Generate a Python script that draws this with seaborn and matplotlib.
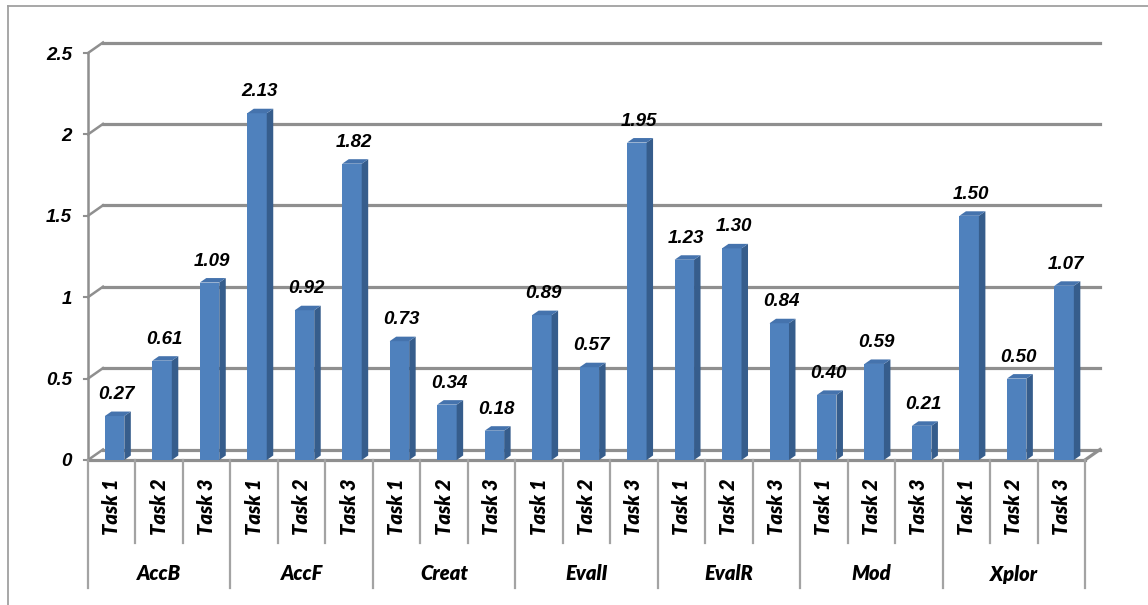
# Excel-style 3D column chart: task scores per group
import pandas as pd
import matplotlib.pyplot as plt
import seaborn as sns
from matplotlib.patches import Polygon
from matplotlib.lines import Line2D

groups = ["AccB", "AccF", "Creat", "EvalI", "EvalR", "Mod", "Xplor"]
tasks = ["Task 1", "Task 2", "Task 3"]
values = [0.27, 0.61, 1.09,
          2.13, 0.92, 1.82,
          0.73, 0.34, 0.18,
          0.89, 0.57, 1.95,
          1.23, 1.30, 0.84,
          0.40, 0.59, 0.21,
          1.50, 0.50, 1.07]
yticks = [0, 0.5, 1, 1.5, 2, 2.5]

rows = []
for gi, g in enumerate(groups):
    for ti, t in enumerate(tasks):
        rows.append({"key": g + " " + t, "group": g, "task": t, "value": values[gi * 3 + ti]})
df = pd.DataFrame(rows)
n = len(df)

W, H = 1148, 605
fig = plt.figure(figsize=(W / 100, H / 100), dpi=100)
ax = fig.add_axes([88 / W, (H - 460) / H, (1085 - 88) / W, (460 - 53) / H])

front = "#4F81BD"
side = "#365D8C"
top = "#4573AD"
grid_col = "#8F8F8F"
sep_col = "#A3A3A3"
num_font = dict(fontsize=13.5, fontweight="bold", fontstyle="italic", family="Liberation Sans")
cat_font = dict(fontsize=14.5, fontweight=800, fontstyle="italic", family="Lato")

sns.barplot(data=df, x="key", y="value", order=df["key"], color=front,
            saturation=1, width=0.41, errorbar=None, ax=ax, zorder=3)

ax.set_xlim(-0.5, n - 0.5)
ax.set_ylim(0, 2.5)
ax.axis("off")

# pixel -> data conversions
px_x = n / (1085 - 88)
px_y = 2.5 / (460 - 53)
depth_x, depth_y = 15 * px_x, 10.5 * px_y     # wall depth
bx, by = 6.5 * px_x, 4.5 * px_y               # bar depth

# back wall gridlines + left connectors + tick marks
for t in yticks:
    ax.add_line(Line2D([-0.5 + depth_x, n - 0.5 + depth_x], [t + depth_y, t + depth_y],
                       color=grid_col, lw=2.3, zorder=1, clip_on=False))
    ax.add_line(Line2D([-0.5, -0.5 + depth_x], [t, t + depth_y],
                       color=grid_col, lw=1.8, zorder=1, clip_on=False))
    ax.add_line(Line2D([-0.5 - 4 * px_x, -0.5], [t, t],
                       color=grid_col, lw=1.5, zorder=1, clip_on=False))
    lab = "0" if t == 0 else ("%g" % t)
    ax.text(-0.5 - 16 * px_x, t - 2 * px_y, lab, ha="right", va="center", **num_font)

# left axis and floor
ax.add_line(Line2D([-0.5, -0.5], [0, 2.5], color=grid_col, lw=1.8, zorder=1, clip_on=False))
ax.add_line(Line2D([-0.5, n - 0.5], [0, 0], color=grid_col, lw=2.3, zorder=2, clip_on=False))
ax.add_line(Line2D([n - 0.5, n - 0.5 + depth_x], [0, depth_y], color=grid_col, lw=2.3,
                   zorder=2, clip_on=False))

# 3D faces and value labels
for p, v in zip(ax.patches, df["value"]):
    p.set_x(p.get_x() + 0.06)
    p.set_edgecolor("none")
    x0, w, h = p.get_x(), p.get_width(), p.get_height()
    x1 = x0 + w
    ax.add_patch(Polygon([(x1, 0), (x1 + bx, by), (x1 + bx, h + by), (x1, h)],
                         closed=True, facecolor=side, edgecolor="none", zorder=3, clip_on=False))
    ax.add_patch(Polygon([(x0, h), (x1, h), (x1 + bx, h + by), (x0 + bx, h + by)],
                         closed=True, facecolor=top, edgecolor="none", zorder=3, clip_on=False))
    ax.annotate("%.2f" % v, (x0 + w / 2 + 2 * px_x, h), xytext=(0, 17),
                textcoords="offset pixels", ha="center", va="baseline",
                annotation_clip=False, **num_font)

# category axis below
task_bottom = -(543 - 460) * px_y
group_bottom = -(588 - 460) * px_y
for i in range(n + 1):
    xb = i - 0.5
    yb = group_bottom if i % 3 == 0 else task_bottom
    ax.add_line(Line2D([xb, xb], [0, yb], color=sep_col, lw=1.6, clip_on=False))
for i, t in enumerate(df["task"]):
    ax.text(i, -(507 - 460) * px_y, t, rotation=90, ha="center", va="center", **cat_font)
for gi, g in enumerate(groups):
    ax.text(gi * 3 + 1, -(574 - 460) * px_y, g, ha="center", va="center", **cat_font)

# outer chart frame
fig.add_artist(Line2D([7.5 / W, 7.5 / W], [0, 1 - 5.5 / H], color="#A0A0A0", lw=1.3))
fig.add_artist(Line2D([7.5 / W, 1], [1 - 5.5 / H, 1 - 5.5 / H], color="#A0A0A0", lw=1.3))

fig.savefig("out.png", dpi=100)
